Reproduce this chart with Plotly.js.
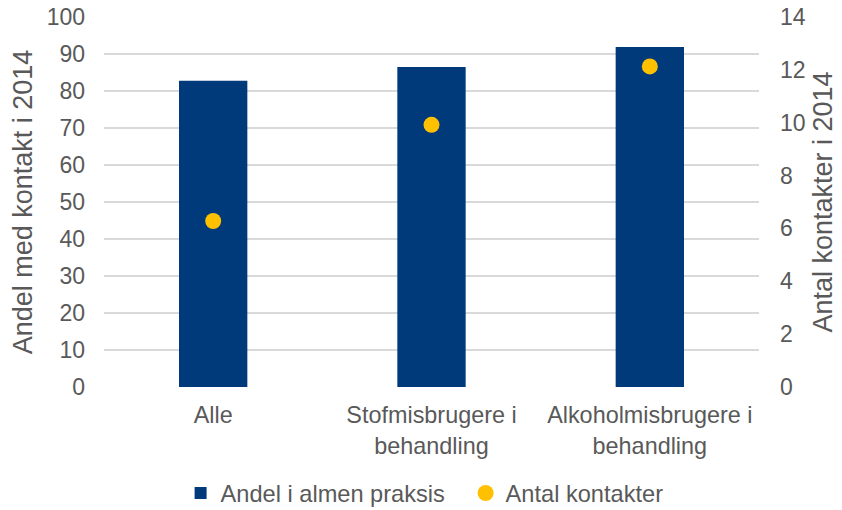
<!DOCTYPE html>
<html>
<head>
<meta charset="utf-8">
<script src="https://cdn.plot.ly/plotly-3.0.1.min.js"></script>
<style>html,body{margin:0;padding:0;background:#fff;}#chart{width:842px;height:510px;}</style>
</head>
<body>
<div id="chart"></div>
<script>
const categories = ["Alle", "Stofmisbrugere i<br>behandling", "Alkoholmisbrugere i<br>behandling"];
const andelValues = [82.8, 86.5, 91.9];
const antalValues = [6.28, 9.92, 12.13];
const leftTicks = [0, 10, 20, 30, 40, 50, 60, 70, 80, 90, 100];
const rightTicks = [0, 2, 4, 6, 8, 10, 12, 14];

const textColor = "#595959";
const fontFamily = "Liberation Sans, Arial, sans-serif";

const traces = [
  {
    type: "bar",
    name: "Andel i almen praksis",
    x: categories,
    y: andelValues,
    width: 0.313,
    marker: {color: "#003A7A"},
    yaxis: "y",
    hoverinfo: "skip"
  },
  {
    type: "scatter",
    mode: "markers",
    name: "Antal kontakter",
    x: categories,
    y: antalValues,
    marker: {color: "#FFC000", size: 16},
    yaxis: "y2",
    hoverinfo: "skip"
  }
];

const layout = {
  width: 842,
  height: 510,
  margin: {l: 104, r: 83, t: 17, b: 123, autoexpand: false},
  paper_bgcolor: "#ffffff",
  plot_bgcolor: "#ffffff",
  font: {family: fontFamily, color: textColor, size: 23},
  showlegend: true,
  legend: {
    orientation: "h",
    xref: "container", yref: "container",
    x: 0.2145, xanchor: "left",
    y: 0.033, yanchor: "middle",
    font: {size: 23.6, color: textColor},
    itemwidth: 30,
    entrywidth: 240,
    entrywidthmode: "pixels",
    traceorder: "normal"
  },
  xaxis: {
    type: "category",
    automargin: false,
    range: [-0.5, 2.5],
    showgrid: false,
    zeroline: false,
    showline: false,
    ticks: "",
    ticklabelstandoff: 12,
    tickfont: {size: 23.4, color: textColor}
  },
  yaxis: {
    automargin: false,
    range: [0, 100],
    tickvals: leftTicks,
    ticktext: leftTicks.map(String),
    showgrid: true,
    gridcolor: "#D9D9D9",
    gridwidth: 1.3,
    zeroline: false,
    showline: false,
    ticks: "",
    ticklabelstandoff: 18,
    tickfont: {size: 23, color: textColor},
    title: {text: "Andel med kontakt i 2014", font: {size: 27, color: textColor}, standoff: 6}
  },
  yaxis2: {
    automargin: false,
    overlaying: "y",
    side: "right",
    range: [0, 14],
    tickvals: rightTicks,
    ticktext: rightTicks.map(String),
    showgrid: false,
    zeroline: false,
    showline: false,
    ticks: "",
    ticklabelstandoff: 20,
    tickfont: {size: 23, color: textColor},
    title: {text: "Antal kontakter i 2014", font: {size: 27, color: textColor}, standoff: 8}
  }
};

Plotly.newPlot("chart", traces, layout, {displayModeBar: false, staticPlot: true});
</script>
</body>
</html>
